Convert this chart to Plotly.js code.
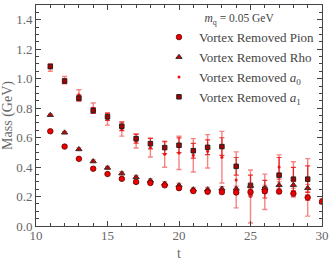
<!DOCTYPE html>
<html>
<head>
<meta charset="utf-8">
<script src="https://cdn.plot.ly/plotly-3.0.1.min.js"></script>
<style>
  html, body { margin: 0; padding: 0; background: #fff; }
  #chart { width: 332px; height: 264px; }
</style>
</head>
<body>
<div id="chart"></div>
<script>
// time slices
var tPion = [11, 12, 13, 14, 15, 16, 17, 18, 19, 20, 21, 22, 23, 24, 25, 26, 27, 28, 29, 30];
var tRho = [11, 12, 13, 14, 15, 16, 17, 18, 19, 20, 21, 22, 23, 24, 25, 26, 27, 28, 29];
var tA0 = [11, 12, 13, 14, 15, 16, 17, 18, 19, 20, 21, 22, 23, 24, 25, 26, 27, 28, 29];
var tA1 = [11, 12, 13, 14, 15, 16, 17, 18, 19, 20, 21, 22, 23, 24, 25, 26, 27, 28, 29];

// masses (GeV) and errors
var pionMass = [0.643, 0.539, 0.456, 0.389, 0.353, 0.32, 0.299, 0.292, 0.276, 0.257, 0.237, 0.232, 0.23, 0.228, 0.23, 0.236, 0.234, 0.22, 0.193, 0.166];
var pionErr = [0.006, 0.006, 0.007, 0.007, 0.008, 0.008, 0.01, 0.01, 0.01, 0.012, 0.012, 0.012, 0.014, 0.015, 0.016, 0.016, 0.016, 0.018, 0.02, 0.02];

var rhoMass = [0.753, 0.634, 0.521, 0.439, 0.395, 0.357, 0.331, 0.308, 0.287, 0.276, 0.248, 0.248, 0.253, 0.253, 0.272, 0.257, 0.278, 0.278, 0.257];
var rhoErr = [0.008, 0.008, 0.01, 0.01, 0.01, 0.012, 0.012, 0.012, 0.014, 0.014, 0.014, 0.015, 0.016, 0.018, 0.02, 0.02, 0.022, 0.022, 0.025];

var a0Mass = [1.075, 0.99, 0.89, 0.8, 0.725, 0.655, 0.576, 0.533, 0.487, 0.496, 0.48, 0.507, 0.467, 0.313, 0.2, 0.232, 0.4, 0.316, 0.262];
var a0Err = [0.025, 0.025, 0.035, 0.035, 0.04, 0.045, 0.047, 0.065, 0.088, 0.113, 0.113, 0.113, 0.175, 0.19, 0.18, 0.12, 0.083, 0.12, 0.195];

var a1Mass = [1.083, 0.984, 0.868, 0.784, 0.741, 0.677, 0.593, 0.559, 0.532, 0.548, 0.511, 0.534, 0.539, 0.405, 0.275, 0.25, 0.345, 0.318, 0.318];
var a1Err = [0.015, 0.015, 0.02, 0.02, 0.025, 0.03, 0.03, 0.035, 0.04, 0.05, 0.05, 0.05, 0.06, 0.06, 0.07, 0.06, 0.12, 0.08, 0.09];

var seriesNames = [
    "Vortex Removed Pion",
    "Vortex Removed Rho",
    "Vortex Removed <i>a</i><sub>0</sub>",
    "Vortex Removed <i>a</i><sub>1</sub>"
];

var serif = "Liberation Serif";

function errBars(arr, color, thick) {
    return { type: "data", array: arr, visible: true, color: color, thickness: thick, width: 2.5 };
}

var data = [
    {
        x: tA0, y: a0Mass, name: seriesNames[2],
        type: "scatter", mode: "markers",
        marker: { symbol: "circle", size: 3, color: "#ee1111" },
        error_y: errBars(a0Err, "rgba(240,30,30,0.55)", 1.4),
        legendrank: 3
    },
    {
        x: tA1, y: a1Mass, name: seriesNames[3],
        type: "scatter", mode: "markers",
        marker: { symbol: "square", size: 4.5, color: "#aa0000", line: { color: "#222", width: 1 } },
        error_y: errBars(a1Err, "rgba(230,20,20,0.85)", 1.2),
        legendrank: 4
    },
    {
        x: tRho, y: rhoMass, name: seriesNames[1],
        type: "scatter", mode: "markers",
        marker: { symbol: "triangle-up", size: 5.5, color: "#cc0000", line: { color: "#333", width: 1 } },
        error_y: errBars(rhoErr, "rgba(240,40,40,0.6)", 1),
        legendrank: 2
    },
    {
        x: tPion, y: pionMass, name: seriesNames[0],
        type: "scatter", mode: "markers",
        marker: { symbol: "circle", size: 5.5, color: "#ee0000", line: { color: "#660000", width: 0.8 } },
        error_y: errBars(pionErr, "rgba(240,40,40,0.6)", 1),
        legendrank: 1
    }
];

var axisBase = {
    showline: true, linecolor: "#444", linewidth: 1, mirror: "allticks",
    ticks: "inside", ticklen: 5, tickcolor: "#444", tickwidth: 1,
    showgrid: false, zeroline: false,
    tickfont: { family: serif, size: 13, color: "#666" }
};

var layout = {
    width: 332, height: 264,
    margin: { l: 36, r: 10, t: 5, b: 38, autoexpand: false },
    paper_bgcolor: "#fff", plot_bgcolor: "#fff",
    showlegend: true,
    font: { family: serif },
    xaxis: Object.assign({}, axisBase, {
        range: [10, 30], dtick: 5, tick0: 10,
        ticklabelstandoff: -3,
        minor: { dtick: 1, ticks: "inside", ticklen: 3, tickcolor: "#444" },
        title: { text: "t", font: { family: serif, size: 14, color: "#666" }, standoff: 6 }
    }),
    yaxis: Object.assign({}, axisBase, {
        range: [0, 1.5], dtick: 0.2, tick0: 0, tickformat: ".1f",
        minor: { dtick: 0.05, ticks: "inside", ticklen: 3, tickcolor: "#444" },
        title: { text: "Mass (GeV)", font: { family: serif, size: 14, color: "#666" }, standoff: 4 }
    }),
    legend: {
        x: 0.43, y: 0.99, xanchor: "left", yanchor: "top",
        bgcolor: "rgba(0,0,0,0)",
        font: { family: serif, size: 13, color: "#444" },
        title: { text: "<i>m</i><sub>q</sub> = 0.05 GeV", side: "top center", font: { family: serif, size: 11.5, color: "#444" } },
        itemwidth: 30, tracegroupgap: 0
    }
};

Plotly.newPlot("chart", data, layout, { staticPlot: true, displayModeBar: false });
</script>
</body>
</html>
